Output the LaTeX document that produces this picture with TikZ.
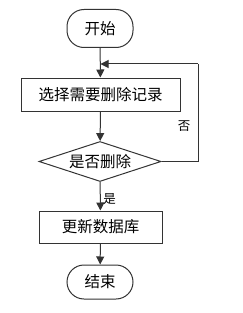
\documentclass[tikz,border=0pt]{standalone}
\usepackage{fontspec}
\newfontfamily\cjk{Noto Sans CJK SC}
\usetikzlibrary{shapes.geometric,arrows.meta}
\begin{document}
\begin{tikzpicture}[x=1pt,y=-1pt,
  every node/.style={font=\cjk\fontsize{15.5}{17}\selectfont, inner sep=0pt},
  line/.style={draw=black!80, line width=1pt},
  term/.style={line, rounded corners=17pt, minimum width=66pt},
  proc/.style={line, rectangle},
  arr/.style={line, -{Triangle[length=8pt,width=8pt]}},
  lbl/.style={font=\cjk\fontsize{12.5}{14}\selectfont}]
\useasboundingbox (0,0) rectangle (242,313);
\node[term, minimum height=38pt] (start) at (100,28.5) {开始};
\node[proc, minimum width=159pt, minimum height=33pt] (sel) at (100.5,94.5) {选择需要删除记录};
\node[line, diamond, minimum width=122pt, minimum height=40pt, shape aspect=3] (dec) at (100,161.5) {};
\node (dect) at (100,161.5) {是否删除};
\node[proc, minimum width=123pt, minimum height=32pt] (upd) at (100.5,227) {更新数据库};
\node[term, minimum height=34pt] (end) at (100,282) {结束};
\coordinate (r1) at (198,161.5);
\coordinate (r2) at (198,64);
\coordinate (r3) at (100.5,64);
\draw[arr] (start) -- (sel);
\draw[arr] (sel) -- (dec);
\draw[arr] (dec) -- (upd);
\draw[arr] (upd) -- (end);
\draw[line] (dec.east) -- (r1) -- (r2);
\draw[arr] (r2) -- (r3);
\node[lbl] (no) at (184,126) {否};
\node[lbl] (yes) at (109.5,199) {是};
\end{tikzpicture}
\end{document}
